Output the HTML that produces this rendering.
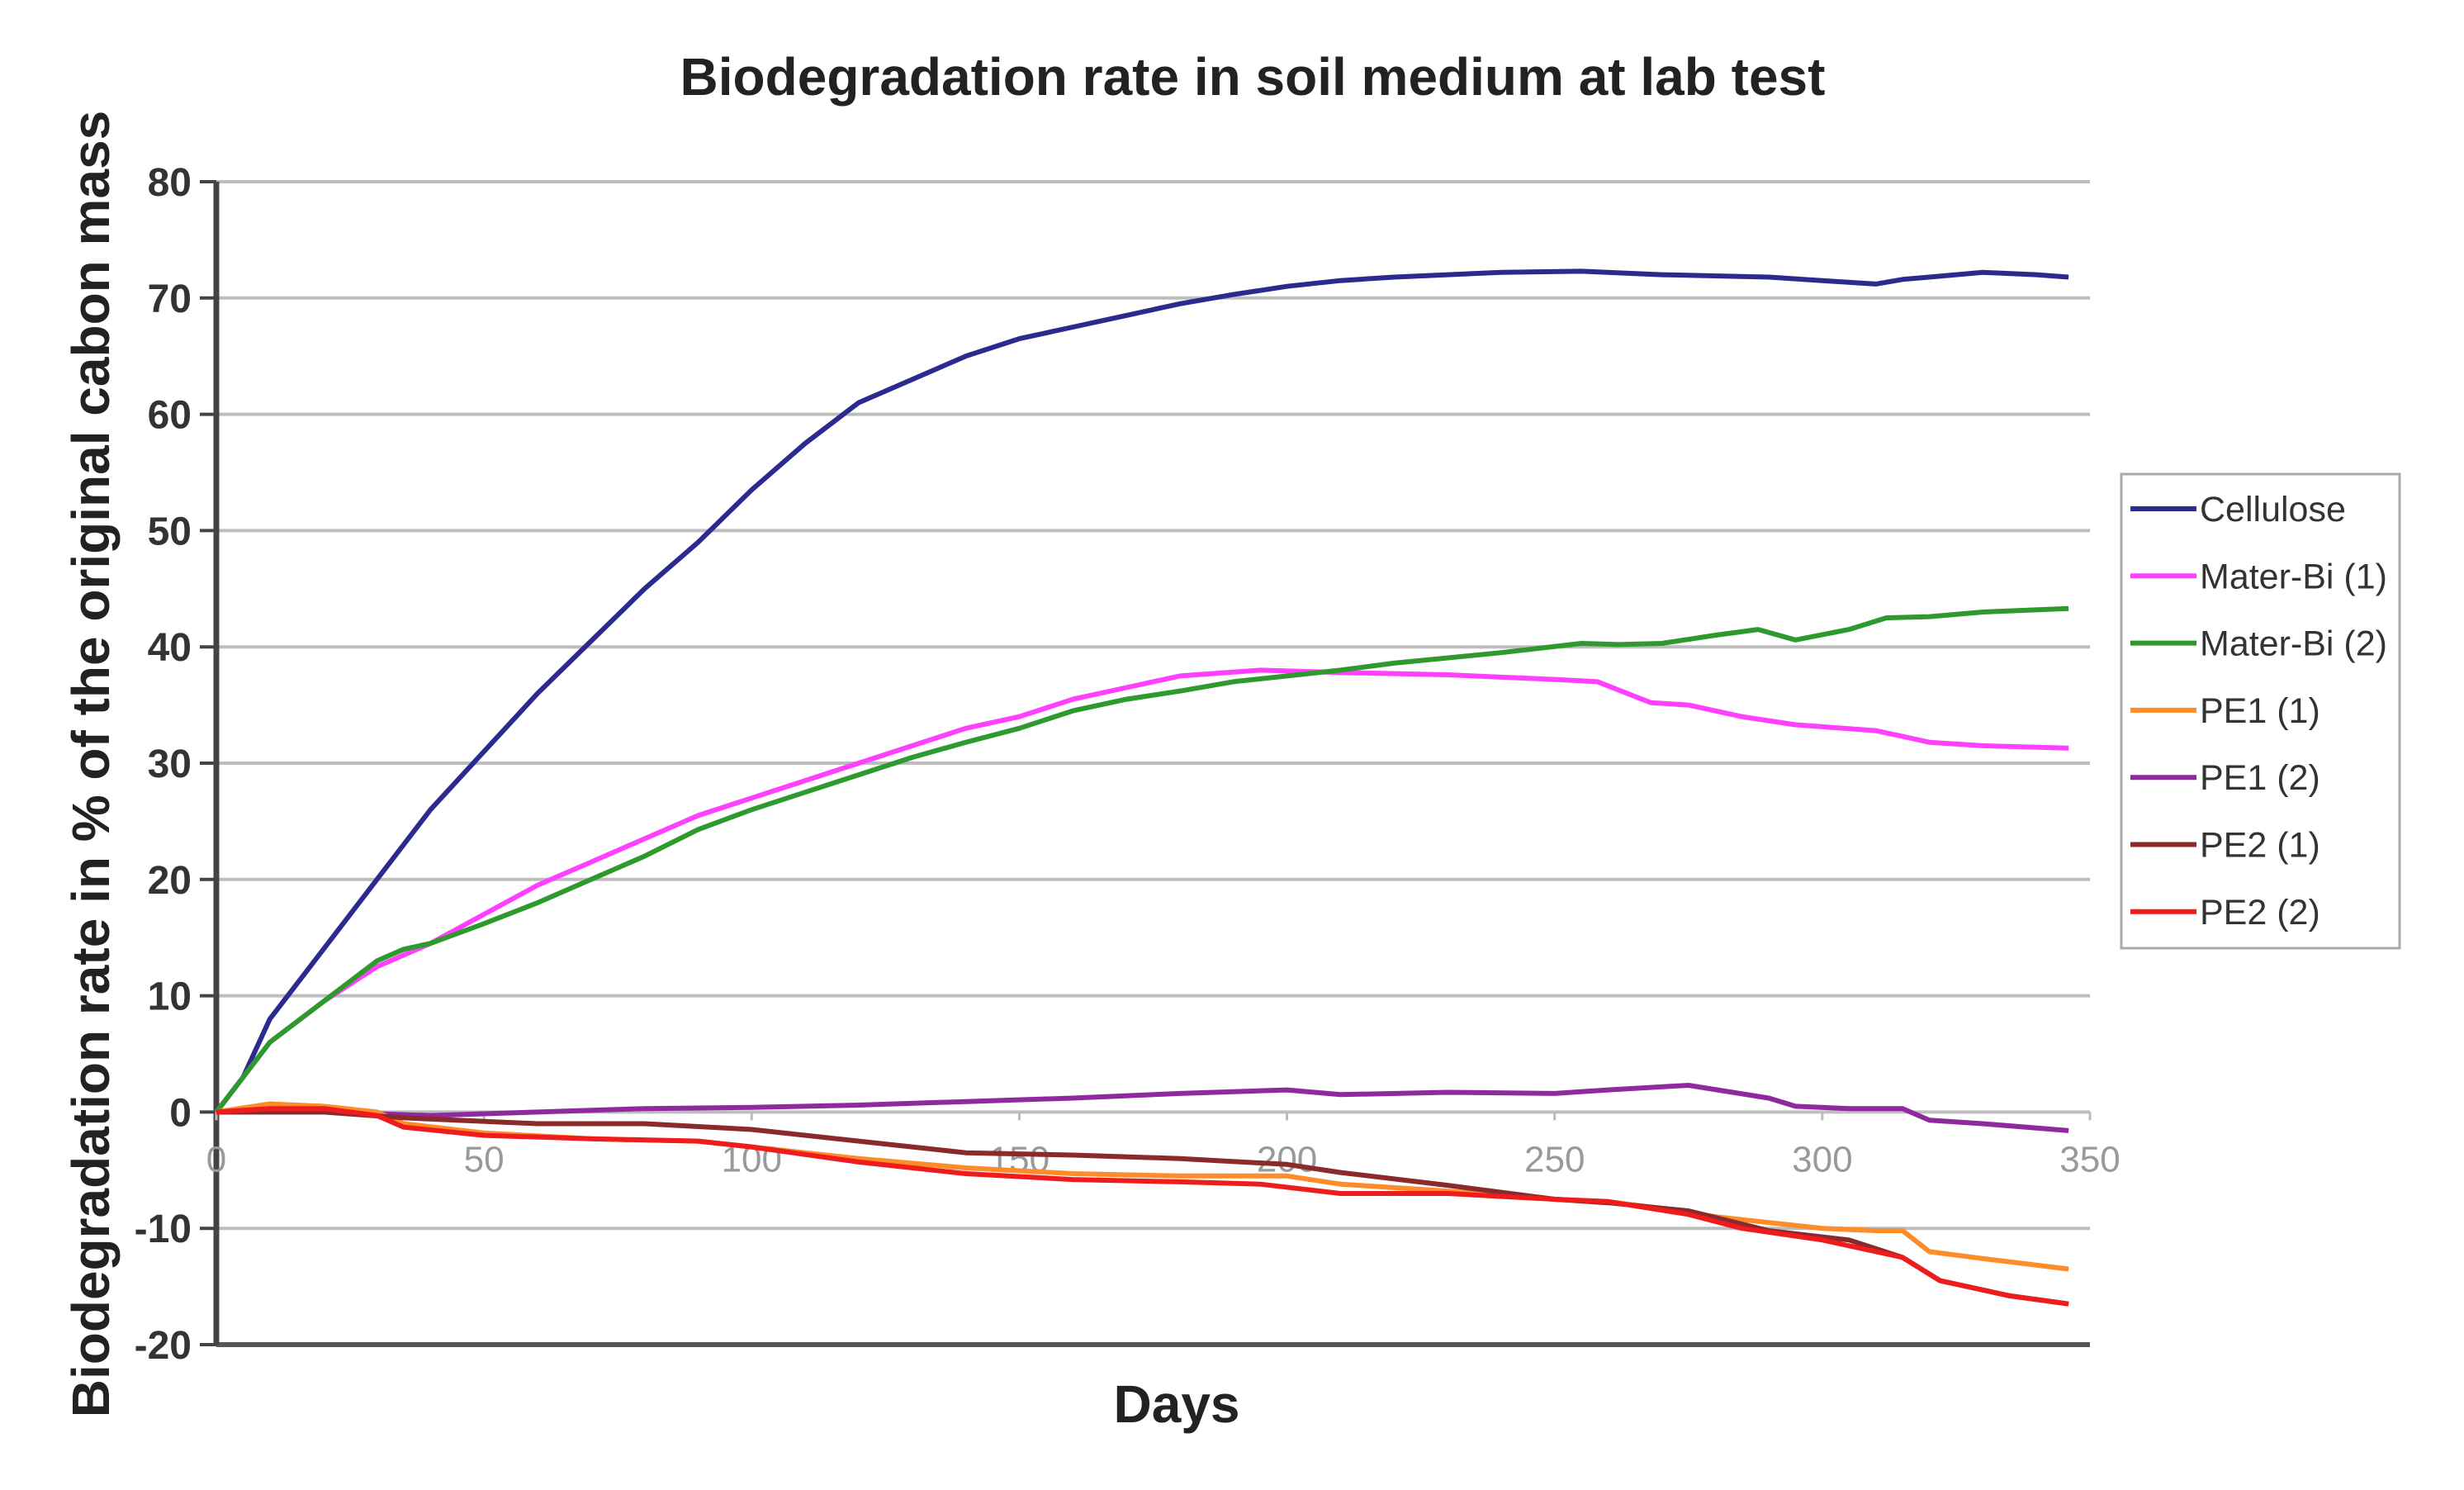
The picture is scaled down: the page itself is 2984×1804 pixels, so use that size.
<!DOCTYPE html>
<html><head><meta charset="utf-8"><style>
html,body{margin:0;padding:0;background:#fff;}
svg{display:block;font-family:"Liberation Sans",sans-serif;}
</style></head><body>
<svg id="chart" width="2984" height="1804" viewBox="0 0 2984 1804">
<text x="1517" y="115" text-anchor="middle" font-size="64" font-weight="bold" fill="#222">Biodegradation rate in soil medium at lab test</text>
<text x="1425" y="1722" text-anchor="middle" font-size="64" font-weight="bold" fill="#222">Days</text>
<text transform="translate(132,925) rotate(-90)" text-anchor="middle" font-size="64" font-weight="bold" fill="#222">Biodegradation rate in % of the original cabon mass</text>
<g id="grid"></g><g id="series"></g><g id="legend"></g>
</svg>
<script>
const yTicks=[80,70,60,50,40,30,20,10,0,-10,-20];
const xTicks=[0,50,100,150,200,250,300,350];
const seriesNames=["Cellulose","Mater-Bi (1)","Mater-Bi (2)","PE1 (1)","PE1 (2)"," PE2 (1)","PE2 (2)"];
const seriesColors=["#2b2b8f","#ff40ff","#2e9a2e","#ff8c2a","#8e2a9e","#8b2a2a","#ee1c1c"];
const celluloseDays=[0,5,10,20,30,40,50,60,70,80,90,100,110,120,130,140,150,160,170,180,190,200,210,220,240,255,270,290,300,310,315,320,330,340,346];
const celluloseVals=[0,3,8,14,20,26,31,36,40.5,45,49,53.5,57.5,61,63,65,66.5,67.5,68.5,69.5,70.3,71,71.5,71.8,72.2,72.3,72,71.8,71.5,71.2,71.6,71.8,72.2,72,71.8];
const materBi1Days=[0,5,10,20,30,40,50,60,70,80,90,100,110,120,130,140,150,160,170,180,195,210,230,250,258,268,275,285,295,310,315,320,330,346];
const materBi1Vals=[0,3,6,9.5,12.5,14.5,17,19.5,21.5,23.5,25.5,27,28.5,30,31.5,33,34,35.5,36.5,37.5,38,37.8,37.6,37.2,37,35.2,35,34,33.3,32.8,32.3,31.8,31.5,31.3];
const materBi2Days=[0,5,10,20,30,35,40,50,60,70,80,90,100,110,120,130,140,150,160,170,180,190,200,210,220,240,255,262,270,280,288,295,305,312,320,330,346];
const materBi2Vals=[0,3,6,9.5,13,14,14.5,16.2,18,20,22,24.3,26,27.5,29,30.5,31.8,33,34.5,35.5,36.2,37,37.5,38,38.6,39.5,40.3,40.2,40.3,41,41.5,40.6,41.5,42.5,42.6,43,43.3];
const pe11Days=[0,10,20,30,35,50,70,90,100,120,140,160,180,200,210,230,250,260,270,280,290,300,310,315,320,330,346];
const pe11Vals=[0,0.7,0.5,0,-1,-1.8,-2.3,-2.5,-3,-4,-4.8,-5.3,-5.5,-5.5,-6.2,-6.8,-7.5,-7.7,-8.3,-9,-9.5,-10,-10.2,-10.2,-12,-12.6,-13.5];
const pe12Days=[0,20,40,60,80,100,120,140,160,180,200,210,230,250,260,275,290,295,305,315,320,330,346];
const pe12Vals=[0,0,-0.3,0,0.3,0.4,0.6,0.9,1.2,1.6,1.9,1.5,1.7,1.6,1.9,2.3,1.2,0.5,0.3,0.3,-0.7,-1,-1.6];
const pe21Days=[0,20,35,60,80,100,120,140,160,180,200,210,230,250,260,275,290,305,315,322,335,346];
const pe21Vals=[0,0,-0.5,-1,-1,-1.5,-2.5,-3.5,-3.7,-4,-4.5,-5.2,-6.3,-7.5,-7.8,-8.5,-10.2,-11,-12.5,-14.5,-15.8,-16.5];
const pe22Days=[0,10,20,30,35,50,70,90,100,120,140,160,180,195,210,230,250,260,275,285,300,315,322,335,346];
const pe22Vals=[0,0.3,0.3,-0.3,-1.3,-2,-2.3,-2.5,-3,-4.3,-5.3,-5.8,-6,-6.2,-7,-7,-7.5,-7.7,-8.8,-10,-11,-12.5,-14.5,-15.8,-16.5];

const NS="http://www.w3.org/2000/svg";
const X0=262,X1=2531,Y0=220,Y1=1628;
const xs=d=>X0+(d/350)*(X1-X0);
const ys=v=>Y0+(80-v)/100*(Y1-Y0);
function mk(tag,attrs,parent){const e=document.createElementNS(NS,tag);for(const k in attrs)e.setAttribute(k,attrs[k]);parent.appendChild(e);return e;}
const grid=document.getElementById('grid');
yTicks.forEach(t=>{
  const y=ys(t);
  const gl=mk('line',{x1:X0,x2:X1,y1:y,y2:y,stroke:t===-20?'#555':'#bdbdbd','stroke-width':t===-20?6:4},grid);
  
  
  const tk=mk('line',{x1:X0-20,x2:X0,y1:y,y2:y,stroke:'#444','stroke-width':4},grid);
  
  
  const lb=mk('text',{x:X0-30,y:y+17,'text-anchor':'end','font-size':48,'font-weight':'bold',fill:'#333'},grid);
  lb.textContent=t;
  
  
});
const ax=mk('line',{x1:X0,x2:X0,y1:Y0,y2:Y1,stroke:'#444','stroke-width':7},grid);


xTicks.forEach(t=>{
  const x=xs(t);
  const tk=mk('line',{x1:x,x2:x,y1:ys(0),y2:ys(0)+10,stroke:'#bbb','stroke-width':3},grid);
  
  
  const lb=mk('text',{x:x,y:ys(0)+72,'text-anchor':'middle','font-size':44,fill:'#999'},grid);
  lb.textContent=t;
  
  
});
const allDays=[celluloseDays,materBi1Days,materBi2Days,pe11Days,pe12Days,pe21Days,pe22Days];
const allVals=[celluloseVals,materBi1Vals,materBi2Vals,pe11Vals,pe12Vals,pe21Vals,pe22Vals];
const sg=document.getElementById('series');
const order=[0,1,2,4,3,5,6];
order.forEach(i=>{
  const pts=allDays[i].map((d,j)=>xs(d).toFixed(1)+','+ys(allVals[i][j]).toFixed(1)).join(' ');
  const pl=mk('polyline',{points:pts,fill:'none',stroke:seriesColors[i],'stroke-width':6,'stroke-linejoin':'round'},sg);
  
  
});
const lg=document.getElementById('legend');
const box=mk('rect',{x:2569,y:574,width:337,height:574,fill:'#fff',stroke:'#aaa','stroke-width':3},lg);


seriesNames.forEach((n,i)=>{
  const y=616+i*81.3;
  const ln=mk('line',{x1:2580,x2:2660,y1:y,y2:y,stroke:seriesColors[i],'stroke-width':6},lg);
  
  
  const tx=mk('text',{x:2664,y:y+15,'font-size':43,fill:'#333','xml:space':'preserve'},lg);
  tx.textContent=n;
  
  
});
</script>
</body></html>
